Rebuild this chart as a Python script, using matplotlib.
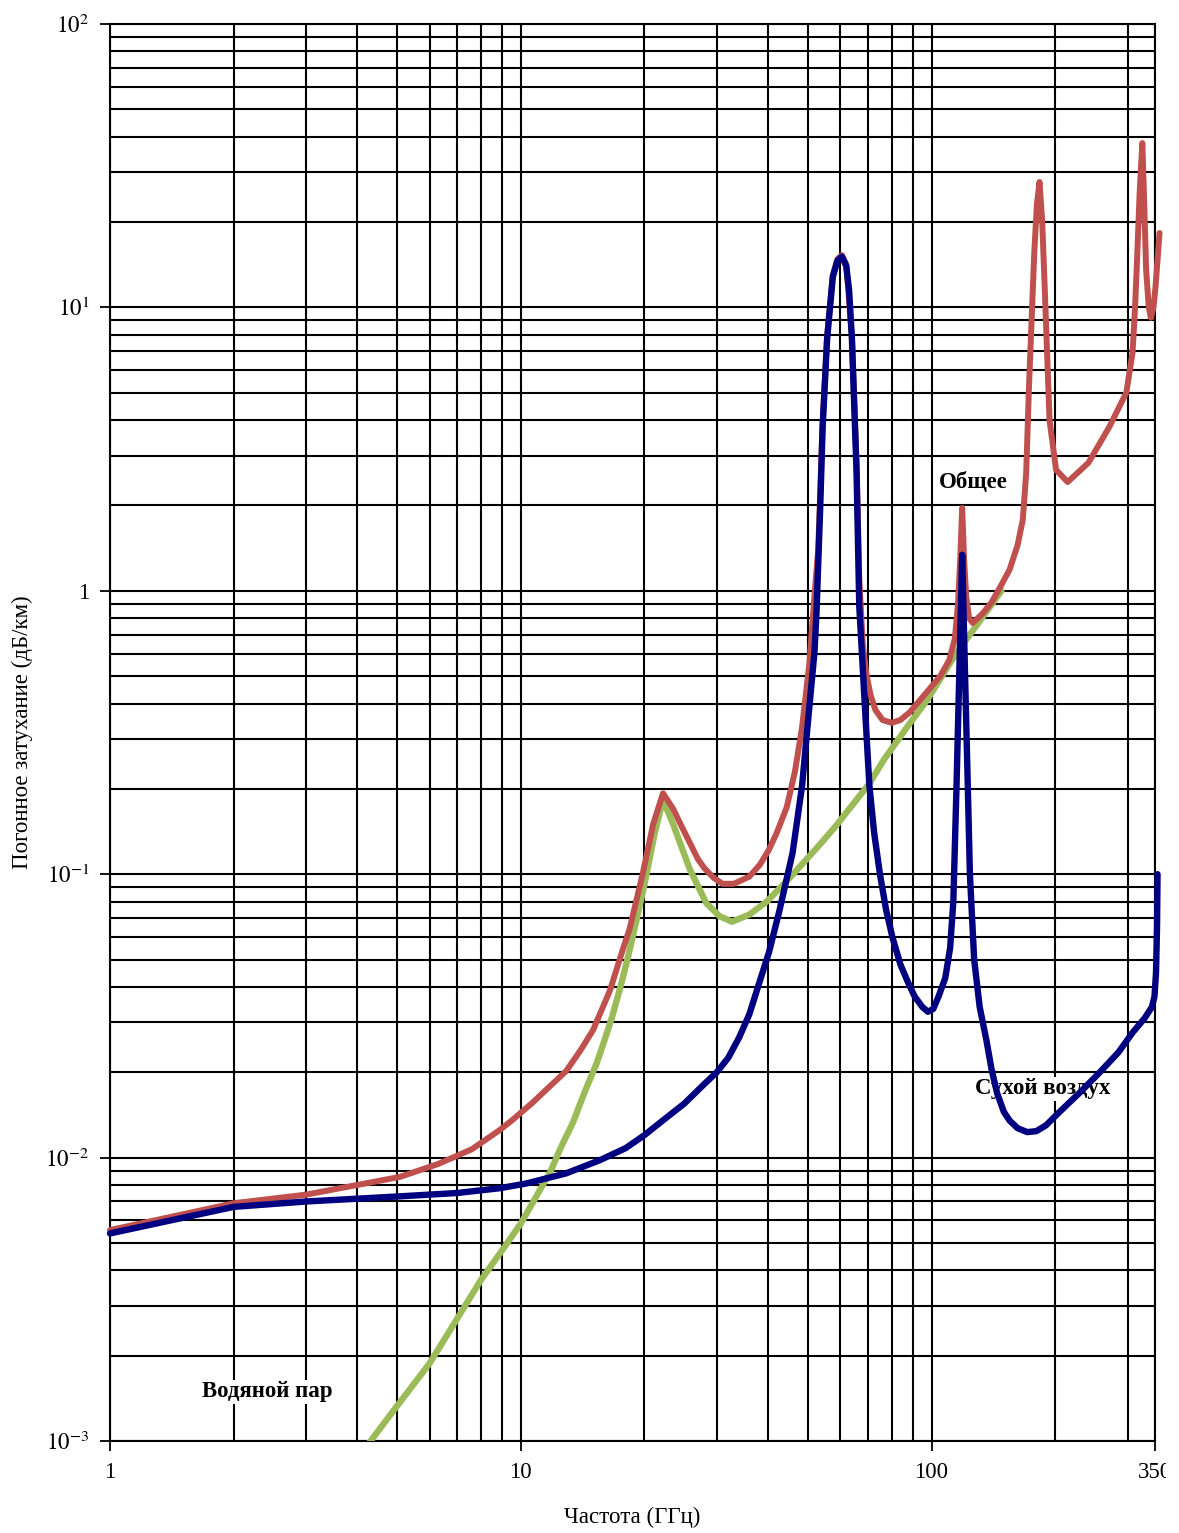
import matplotlib
matplotlib.use('Agg')
import matplotlib.pyplot as plt
from matplotlib.transforms import Bbox

plt.rcParams['font.family'] = ['Liberation Serif', 'DejaVu Serif']
plt.rcParams['mathtext.fontset'] = 'stix'

# ---------------- data ----------------
# Blue curve (oxygen / dry air)
f_blue = [1, 2, 3, 5.08, 7, 8.9, 10.3, 12.9, 15.6, 18, 20, 22, 25, 28, 30, 32, 34,
          36, 38, 40.2, 42.6, 45.9, 48.4, 50.1, 51.9, 52.5, 53.0, 53.6, 54.3, 55.7,
          57.5, 59, 60.5, 62, 63, 64.0, 65.7, 66.7, 68.6, 70.6, 72.5, 74.9, 77.5,
          80.3, 84, 88, 91, 95, 98, 101, 104, 108, 111, 113, 115, 116.8, 118.75,
          120.7, 122.4, 124, 127, 131, 136, 140, 144.4, 150, 155, 162, 171, 180,
          190, 204, 230, 256, 285, 308.6, 330, 344, 349, 352, 354, 355]
a_blue = [0.0054, 0.0067, 0.0070, 0.0073, 0.0075, 0.0078, 0.0081, 0.0088, 0.0098,
          0.0108, 0.0120, 0.0134, 0.0155, 0.0182, 0.0200, 0.0225, 0.0265, 0.032,
          0.041, 0.053, 0.074, 0.119, 0.205, 0.353, 0.61, 0.85, 1.26, 2.0, 3.74,
          7.75, 12.8, 14.6, 15.1, 14.0, 11.5, 7.75, 2.61, 0.88, 0.427, 0.205, 0.14,
          0.1, 0.075, 0.06, 0.048, 0.041, 0.037, 0.034, 0.0327, 0.0335, 0.037,
          0.043, 0.055, 0.08, 0.2, 0.5, 1.34, 0.5, 0.22, 0.1, 0.05, 0.034, 0.026,
          0.0205, 0.0169, 0.0145, 0.0135, 0.0127, 0.0123, 0.0124, 0.0130, 0.0144,
          0.017, 0.0199, 0.0235, 0.0276, 0.031, 0.034, 0.037, 0.045, 0.065, 0.1]

# Red curve (total)
f_red = [1, 2, 3, 5.08, 6.3, 7.6, 8.88, 9.5, 10.67, 11.7, 12.9, 14, 15, 16.5, 17.7,
         18.4, 19.8, 21, 22.2, 23.5, 24.5, 25.8, 27, 28, 29.5, 31, 33, 36, 38.2,
         40.2, 42, 44.4, 46.5, 48.4, 50.4, 52, 53, 54.3, 55.7, 57.5, 59, 60.5, 62,
         64, 65.7, 66.7, 68, 69.4, 71, 73, 76, 80, 84, 88.7, 97, 105, 110.5, 114,
         116, 117.5, 118.75, 120, 121.5, 123.5, 126, 133, 140, 148, 155, 162,
         166.8, 170, 172.7, 175.5, 177.9, 180.5, 183.2, 186, 188.6, 193.8, 201,
         214.5, 241, 271, 298, 308.6, 313, 317, 321, 326, 329, 333, 338, 342, 347,
         351, 359]
a_red = [0.00555, 0.0069, 0.0074, 0.00855, 0.0095, 0.0107, 0.0125, 0.0135, 0.0156,
         0.0177, 0.0202, 0.024, 0.0282, 0.039, 0.054, 0.064, 0.1, 0.15, 0.193,
         0.17, 0.15, 0.129, 0.113, 0.105, 0.097, 0.0925, 0.0925, 0.098, 0.108,
         0.122, 0.14, 0.172, 0.23, 0.33, 0.55, 1.0, 1.4, 3.9, 7.9, 13.0, 14.8,
         15.3, 14.2, 7.9, 2.8, 1.1, 0.65, 0.51, 0.43, 0.38, 0.35, 0.342, 0.35,
         0.374, 0.436, 0.5, 0.57, 0.68, 0.9, 1.3, 1.96, 1.3, 0.95, 0.8, 0.77, 0.83,
         0.91, 1.05, 1.19, 1.45, 1.78, 2.6, 5.25, 9.5, 15.6, 23.0, 27.7, 20.0, 11.8,
         4.0, 2.67, 2.42, 2.83, 3.79, 5.0, 6.92, 10.0, 15.6, 25.0, 38.0, 25.0,
         13.6, 10.0, 9.2, 10.0, 11.8, 18.3]

# Green curve (water vapour)
f_green = [4.1, 4.31, 5, 6, 7, 8, 9, 10, 11.8, 12.5, 13.4, 14.3, 15.3, 16, 16.7,
           17.4, 18.1, 18.9, 20, 21.2, 22.2, 23.5, 25.8, 28.3, 30.5, 32.7, 36, 39.7,
           45.9, 53.4, 58.5, 70.6, 76.5, 88.7, 97.6, 115, 128, 148]
a_green = [0.0009, 0.001, 0.00133, 0.00188, 0.0027, 0.0037, 0.0047, 0.00585, 0.0089,
           0.0108, 0.0133, 0.017, 0.0215, 0.026, 0.0315, 0.039, 0.0487, 0.0637,
           0.092, 0.14, 0.183, 0.15, 0.104, 0.079, 0.071, 0.068, 0.072, 0.08,
           0.0995, 0.127, 0.148, 0.209, 0.253, 0.342, 0.412, 0.604, 0.746, 1.0]

x_ticks = [1, 10, 100, 350]
x_ticklabels = ['1', '10', '100', '350']
y_ticks = [1e-3, 1e-2, 1e-1, 1, 10, 100]
y_ticklabels = ['$10^{-3}$', '$10^{-2}$', '$10^{-1}$', '1', '$10^{1}$', '$10^{2}$']

x_label = 'Частота (ГГц)'
y_label = 'Погонное затухание (дБ/км)'
annotations = [('Общее', 126.5, 2.42), ('Сухой воздух', 186.2, 0.0175),
               ('Водяной пар', 2.41, 0.00149)]

# ---------------- figure ----------------
W, H = 1179, 1533
fig = plt.figure(figsize=(W / 100, H / 100), dpi=100)
fig.patch.set_facecolor('white')
ax = fig.add_axes([110 / W, 1 - 1441 / H, (1155 - 110) / W, (1441 - 24) / H])
ax.set_xscale('log')
ax.set_yscale('log')
ax.set_xlim(1, 350)
ax.set_ylim(1e-3, 1e2)

minor_x = [m * d for d in (1, 10) for m in range(2, 10)] + [200, 300]
minor_y = [m * 10.0 ** e for e in range(-3, 2) for m in range(2, 10)]
ax.set_xticks(x_ticks)
ax.set_xticklabels(x_ticklabels)
ax.set_xticks(minor_x, minor=True)
ax.set_xticklabels([], minor=True)
ax.set_yticks(y_ticks)
ax.set_yticklabels(y_ticklabels)
ax.set_yticks(minor_y, minor=True)
ax.set_yticklabels([], minor=True)

ax.tick_params(which='major', direction='out', length=7, width=1.3, color='black',
               labelsize=16.5, pad=8)
ax.tick_params(which='minor', length=0)
ax.set_axisbelow(True)
ax.grid(which='both', color='black', linewidth=1.5)
for s in ax.spines.values():
    s.set_color('black')
    s.set_linewidth(1.5)

ax.plot(f_green, a_green, color='#9BBB59', lw=4.6, zorder=3,
        solid_joinstyle='round', solid_capstyle='round')
ax.plot(f_red, a_red, color='#C0504D', lw=4.3, zorder=4, clip_on=False,
        solid_joinstyle='round', solid_capstyle='round')
ax.plot(f_blue, a_blue, color='#000080', lw=4.6, zorder=5, clip_on=False,
        solid_joinstyle='round', solid_capstyle='round')

for txt, fx, fy in annotations:
    ax.text(fx, fy, txt, ha='center', va='center', fontsize=16.5, fontweight='bold',
            zorder=2.5, bbox=dict(facecolor='white', edgecolor='none', pad=1.0))

fig.text(632 / W, 1 - 1517 / H, x_label, ha='center', va='center', fontsize=16.5)
fig.text(22 / W, 1 - 732 / H, y_label, ha='center', va='center', fontsize=16.5,
         rotation=90)

# the right-most tick label is cut at the image edge in the reference
for lab in ax.get_xticklabels():
    if lab.get_text() == '350':
        lab.set_clip_box(Bbox([[0, 0], [1166, H]]))
        lab.set_clip_on(True)

fig.savefig('out.png', dpi=100, facecolor='white')
